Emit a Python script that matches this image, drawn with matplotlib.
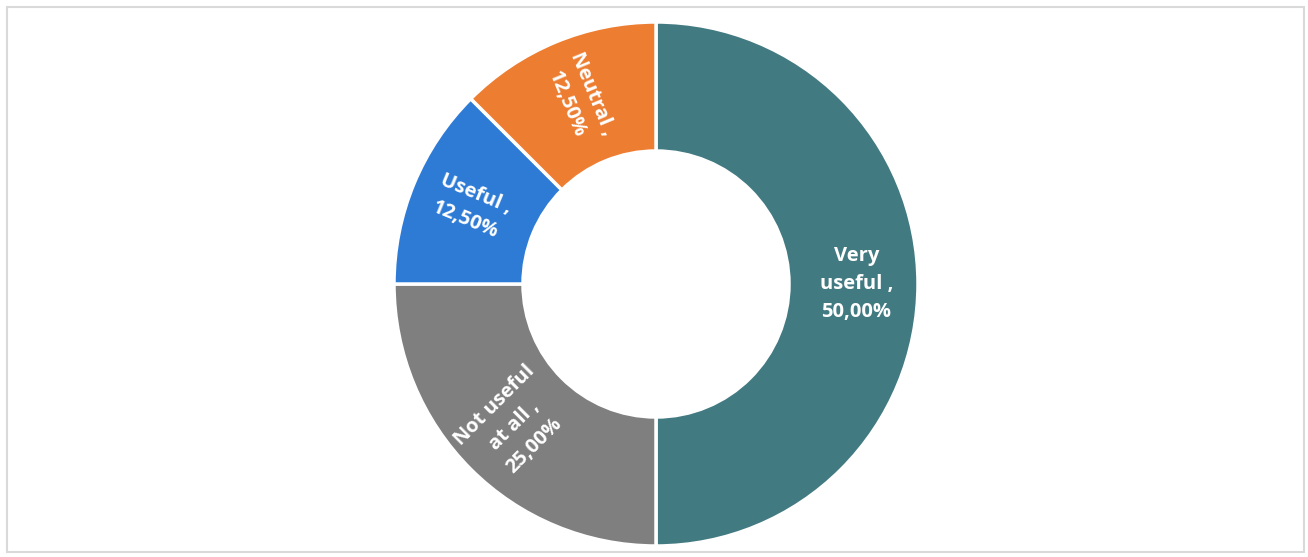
import numpy as np
import matplotlib
matplotlib.use("Agg")
import matplotlib.pyplot as plt
import matplotlib.patches as patches

# survey answers, clockwise from 12 o'clock
categories = ["Very\nuseful", "Not useful\nat all", "Useful", "Neutral"]
shares = [50.0, 25.0, 12.5, 12.5]
colors = ["#427A82", "#7F7F7F", "#2E7BD6", "#ED7D31"]

W, H = 1308, 557
fig = plt.figure(figsize=(W / 100, H / 100), dpi=100)
ax = fig.add_axes([0, 0, 1, 1])
ax.set_xlim(0, W)
ax.set_ylim(0, H)
ax.set_aspect("equal")
ax.axis("off")

# thin grey frame around the chart area
ax.add_patch(patches.Rectangle((7, 5), W - 11, H - 12, fill=False,
                               edgecolor="#D9D9D9", linewidth=1.5))

cx, cy = 656, 273
r_out, r_in = 262, 133
wedges, _ = ax.pie(shares, colors=colors, startangle=90, counterclock=False,
                   radius=r_out, center=(cx, cy),
                   wedgeprops=dict(width=r_out - r_in, edgecolor="white",
                                   linewidth=2.5))
ax.set_xlim(0, W)
ax.set_ylim(0, H)

r_lab = 0.765 * r_out
for w, cat, val in zip(wedges, categories, shares):
    mid = (w.theta1 + w.theta2) / 2
    mid_rad = np.deg2rad(mid)
    x = cx + r_lab * np.cos(mid_rad)
    y = cy + r_lab * np.sin(mid_rad)
    rot = 0 if abs(((mid + 180) % 360) - 180) < 1 else mid - 180
    if rot < -180:
        rot += 360
    txt = f"{cat} ,\n" + f"{val:.2f}%".replace(".", ",")
    ax.text(x, y, txt, ha="center", va="center", rotation=rot,
            rotation_mode="anchor", color="white", fontsize=14.5,
            fontweight="bold", family=["Open Sans", "DejaVu Sans"],
            linespacing=1.55, multialignment="center")

fig.savefig("out.png", dpi=100)
